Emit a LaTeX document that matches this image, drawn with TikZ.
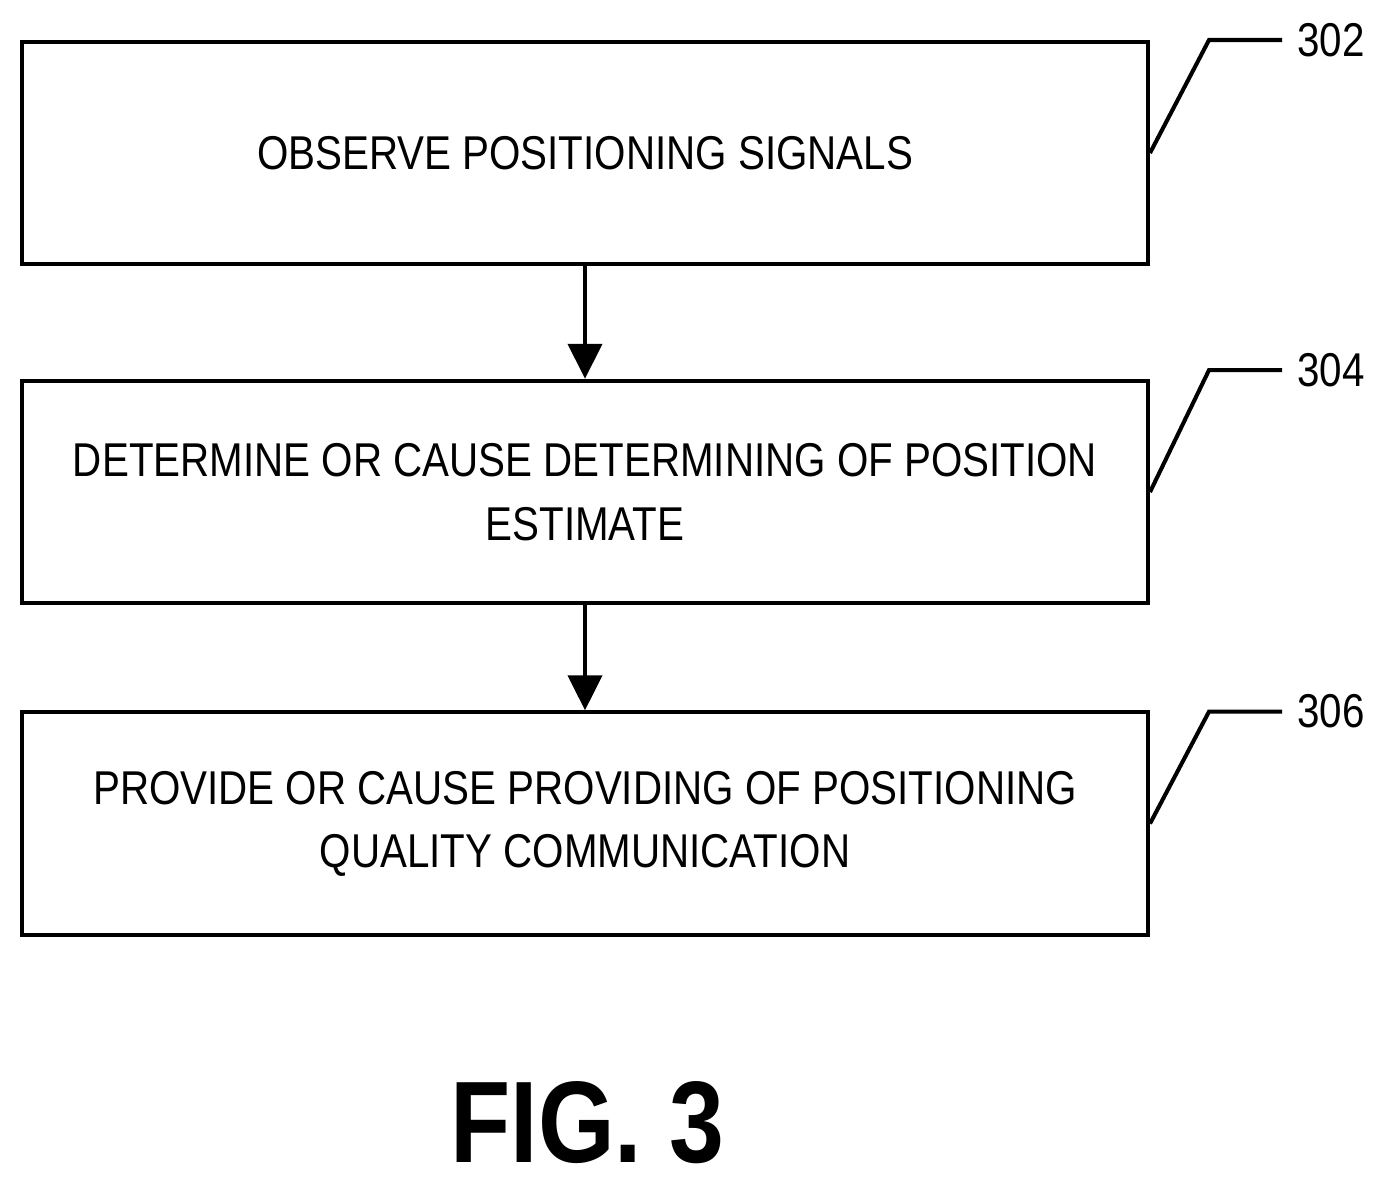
\documentclass[tikz,border=0pt]{standalone}
\usepackage{fontspec}
\setmainfont{Liberation Sans}[FakeStretch=0.85]
\usetikzlibrary{positioning,arrows.meta}
\tikzset{
	stepbox/.style={draw,line width=2.3pt,minimum width=22.52cm,minimum height=4.45cm,align=center,font=\fontsize{27}{36}\selectfont,inner sep=0pt},
	flow/.style={line width=2.3pt,-{Triangle[length=0.7cm,width=0.68cm]}},
	lead/.style={line width=2.3pt},
	refnum/.style={right,inner sep=2pt,xshift=0.2cm,font=\fontsize{27}{30}\selectfont}
}
\begin{document}
\begin{tikzpicture}
	\useasboundingbox (0,0) rectangle (27.56,-23.62);
	\node[stepbox] (observe) at (11.7,-3.06) {OBSERVE POSITIONING SIGNALS};
	\node[stepbox,below=2.25cm of observe] (estimate) {DETERMINE OR CAUSE DETERMINING OF POSITION\\ESTIMATE};
	\node[stepbox,below=2.1cm of estimate] (provide) {PROVIDE OR CAUSE PROVIDING OF POSITIONING\\QUALITY COMMUNICATION};
	\draw[flow] (observe) -- (estimate);
	\draw[flow] (estimate) -- (provide);
	% reference numerals
	\draw[lead] (observe.east) -- ++(1.18,2.26) -- ++(1.46,0) node[refnum] (n302) {302};
	\draw[lead] (estimate.east) -- ++(1.18,2.44) -- ++(1.46,0) node[refnum] (n304) {304};
	\draw[lead] (provide.east) -- ++(1.18,2.24) -- ++(1.46,0) node[refnum] (n306) {306};
	\node[font=\fontsize{66}{72}\selectfont\bfseries] (fig) at (11.75,-22.45) {FIG. 3};
\end{tikzpicture}
\end{document}
